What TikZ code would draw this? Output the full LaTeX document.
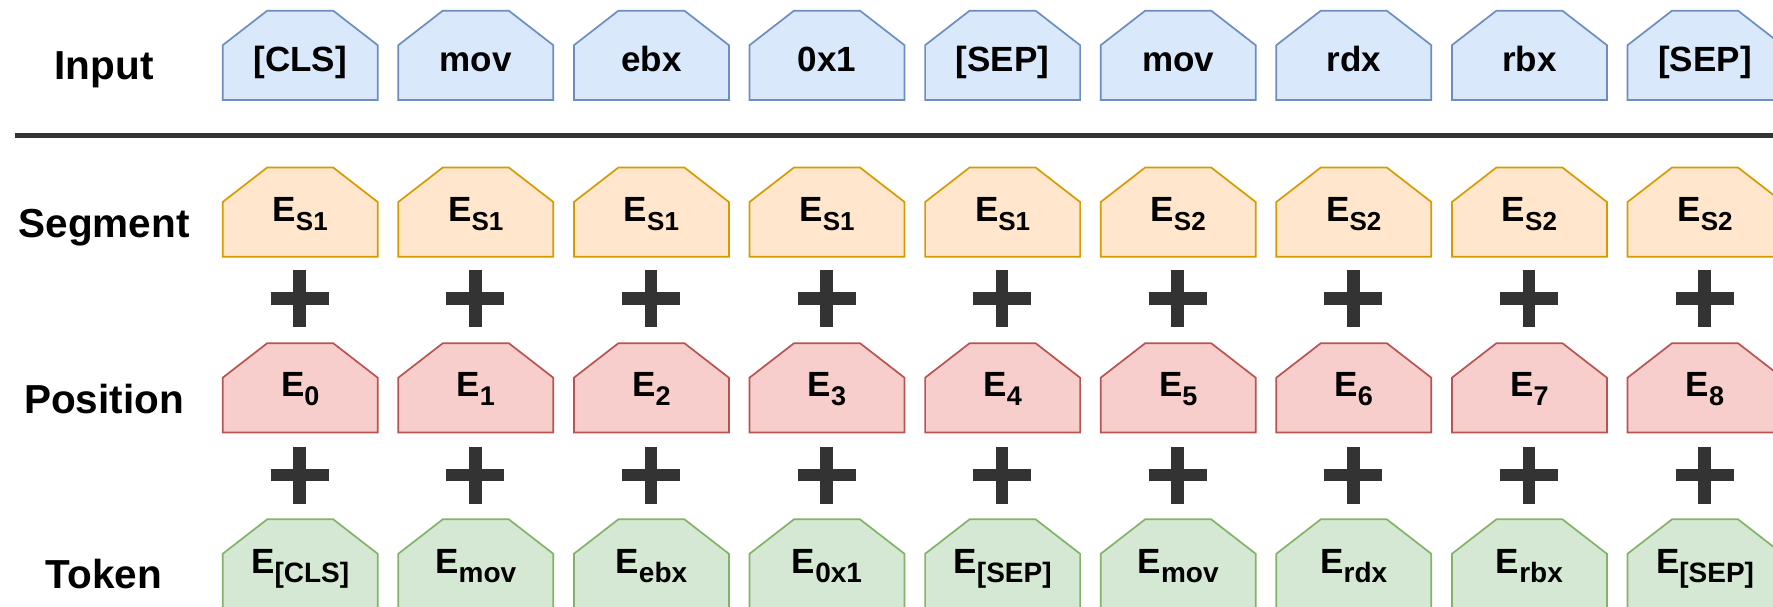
\documentclass[tikz,border=0pt]{standalone}
\usepackage{fontspec}
\setmainfont{Liberation Sans}
\definecolor{inFill}{HTML}{DAE8FC}
\definecolor{inLine}{HTML}{6C8EBF}
\definecolor{segFill}{HTML}{FFE6CC}
\definecolor{segLine}{HTML}{D79B00}
\definecolor{posFill}{HTML}{F8CECC}
\definecolor{posLine}{HTML}{B85450}
\definecolor{tokFill}{HTML}{D5E8D4}
\definecolor{tokLine}{HTML}{82B366}
\definecolor{ink}{HTML}{333333}
% embedding symbol E with a lowered subscript of a given size
\newcommand{\emb}[2]{E\raisebox{-9pt}{\fontsize{#1}{#1}\selectfont #2}}
\tikzset{
  pics/tagshape/.style={code={
    \path[pic actions] (-77.5,44.65) -- (-77.5,-10.15) -- (-33,-44.65)
      -- (33,-44.65) -- (77.5,-10.15) -- (77.5,44.65) -- cycle;
  }},
}
\begin{document}
\begin{tikzpicture}[x=1pt,y=-1pt,
  boxtext/.style={anchor=base, inner sep=0pt, text=black,
    font=\fontsize{35}{42}\selectfont\bfseries},
  rowlabel/.style={anchor=base, inner sep=0pt, text=black,
    font=\fontsize{40.5}{48}\selectfont\bfseries},
  plusbar/.style={draw=ink, line width=12.5pt},
  tagline/.style={line width=1.7pt, line join=miter}]
\useasboundingbox (0,0) rectangle (1773,607);
\clip (0,0) rectangle (1773,607);

% row labels
\node[rowlabel] (lab-input) at (104,80)    {Input};
\node[rowlabel] (lab-seg)   at (104,237)   {Segment};
\node[rowlabel] (lab-pos)   at (104,413.3) {Position};
\node[rowlabel] (lab-tok)   at (104,588.3) {Token};

% separator between input and embeddings
\draw[ink, line width=4.4pt] (15.3,135.5) -- (1790,135.5);

% input tokens
\foreach \t [count=\i from 0] in {{[CLS]},mov,ebx,0x1,{[SEP]},mov,rdx,rbx,{[SEP]}} {
  \pgfmathsetmacro\cx{300.2+175.6*\i}
  \pic[fill=inFill, draw=inLine, tagline] at (\cx,55.35) {tagshape};
  \node[boxtext] (in-\i) at (\cx,71.7) {\t};
}

% segment embeddings
\foreach \s [count=\i from 0] in {1,1,1,1,1,2,2,2,2} {
  \pgfmathsetmacro\cx{300.2+175.6*\i}
  \pic[fill=segFill, draw=segLine, tagline] at (\cx,212.15) {tagshape};
  \node[boxtext] (seg-\i) at (\cx,221.7) {\emb{26}{S\s}};
}

% position embeddings
\foreach \i in {0,...,8} {
  \pgfmathsetmacro\cx{300.2+175.6*\i}
  \pic[fill=posFill, draw=posLine, tagline] at (\cx,387.85) {tagshape};
  \node[boxtext] (pos-\i) at (\cx,396.7) {\emb{27}{\i}};
}

% token embeddings
\foreach \t [count=\i from 0] in {{[CLS]},mov,ebx,0x1,{[SEP]},mov,rdx,rbx,{[SEP]}} {
  \pgfmathsetmacro\cx{300.2+175.6*\i}
  \pic[fill=tokFill, draw=tokLine, tagline] at (\cx,563.95) {tagshape};
  \node[boxtext] (tok-\i) at (\cx,573.3) {\emb{28}{\t}};
}

% plus signs between the embedding rows
\foreach \i in {0,...,8} {
  \pgfmathsetmacro\cx{299.7+175.6*\i}
  \foreach \py in {298.5,475.2} {
    \draw[plusbar] (\cx-29,\py) -- (\cx+29,\py) (\cx,\py-28.3) -- (\cx,\py+28.3);
  }
}
\end{tikzpicture}
\end{document}
